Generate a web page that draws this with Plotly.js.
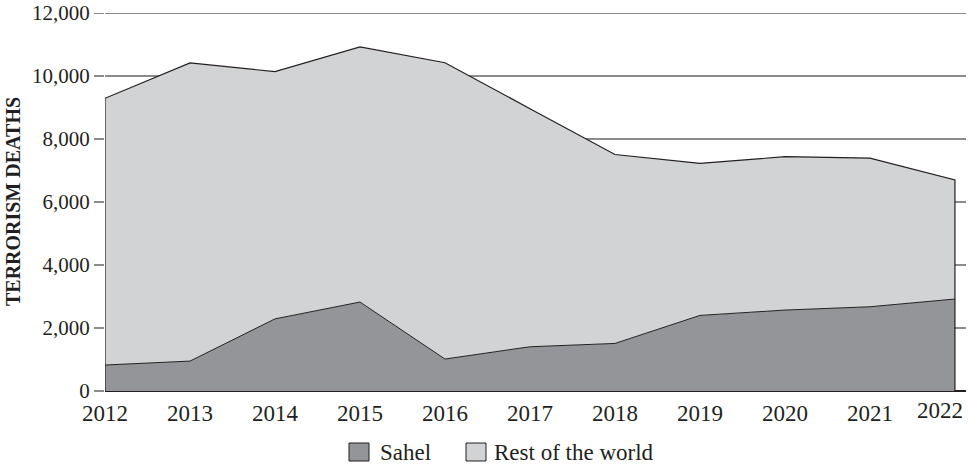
<!DOCTYPE html>
<html>
<head>
<meta charset="utf-8">
<script src="https://cdn.plot.ly/plotly-3.0.1.min.js"></script>
<style>html,body{margin:0;padding:0;background:#fff;}#chart{width:969px;height:465px;}</style>
</head>
<body>
<div id="chart"></div>
<script>
const years = [2012, 2013, 2014, 2015, 2016, 2017, 2018, 2019, 2020, 2021, 2022];
const sahel = [825, 950, 2290, 2825, 1015, 1405, 1510, 2400, 2570, 2675, 2920];
const restOfWorld = [8470, 9470, 7850, 8100, 9410, 7560, 6000, 4830, 4870, 4720, 3780];
const yTickVals = [0, 2000, 4000, 6000, 8000, 10000, 12000];
const seriesNames = ['Sahel', 'Rest of the world'];
const yTitle = 'TERRORISM DEATHS';

const totals = years.map((_, i) => sahel[i] + restOfWorld[i]);
const colSahel = '#939598';
const colRest = '#d1d3d4';
const edge = '#231f20';
const font = 'Liberation Serif, Times New Roman, serif';

const traces = [
  {x: years, y: sahel, name: seriesNames[0], type: 'scatter', mode: 'lines',
   stackgroup: 'one', fillcolor: colSahel, line: {color: edge, width: 1}, hoverinfo: 'skip'},
  {x: years, y: restOfWorld, name: seriesNames[1], type: 'scatter', mode: 'lines',
   stackgroup: 'one', fillcolor: colRest, line: {color: edge, width: 0}, hoverinfo: 'skip'},
  {x: [years[0]].concat(years, [years[years.length-1]]),
   y: [0].concat(totals, [0]), type: 'scatter', mode: 'lines',
   line: {color: edge, width: 1.2}, hoverinfo: 'skip', showlegend: false}
];

const L = 105, R = 966, T = 12, B = 391;
const px = v => (v - L) / (R - L);
const py = v => (B - v) / (B - T);

const layout = {
  width: 969, height: 465,
  margin: {l: L, r: 969 - R, t: T, b: 465 - B},
  paper_bgcolor: '#fff', plot_bgcolor: '#fff',
  showlegend: false,
  font: {family: font, color: '#231f20'},
  xaxis: {
    range: [2012, 2022.13], tickvals: years.slice(0, -1), ticktext: years.slice(0, -1).map(String),
    showgrid: false, zeroline: false, showline: false, ticks: '', ticklabelstandoff: 6,
    tickfont: {size: 23, family: font, color: '#231f20'}, automargin: false
  },
  yaxis: {
    range: [0, 12035], tickvals: yTickVals, tickformat: ',d',
    showgrid: true, gridcolor: '#8c8c8c', gridwidth: 1.2,
    zeroline: true, zerolinecolor: edge, zerolinewidth: 1.6,
    ticks: 'outside', ticklen: 10, tickcolor: '#8c8c8c', tickwidth: 1.2,
    showline: false, automargin: false,
    tickfont: {size: 21, family: font, color: '#231f20'},
    title: {text: '<b>' + yTitle + '</b>', font: {size: 20, family: font, color: '#231f20'}, standoff: 6}
  },
  shapes: [
    {type: 'rect', xref: 'paper', yref: 'paper', x0: px(349), x1: px(369), y0: py(461), y1: py(443),
     fillcolor: colSahel, line: {color: edge, width: 1}},
    {type: 'rect', xref: 'paper', yref: 'paper', x0: px(466), x1: px(486), y0: py(461), y1: py(443),
     fillcolor: colRest, line: {color: edge, width: 1}}
  ],
  annotations: [
    {xref: 'x', yref: 'paper', x: years[years.length-1], y: 0, yshift: -5, xshift: -15,
     text: String(years[years.length-1]), showarrow: false, xanchor: 'center', yanchor: 'top',
     font: {size: 23, family: font, color: '#231f20'}},
    {xref: 'paper', yref: 'paper', x: px(378), y: py(452), text: seriesNames[0], showarrow: false,
     xanchor: 'left', yanchor: 'middle', font: {size: 23, family: font, color: '#231f20'}},
    {xref: 'paper', yref: 'paper', x: px(492), y: py(452), text: seriesNames[1], showarrow: false,
     xanchor: 'left', yanchor: 'middle', font: {size: 23, family: font, color: '#231f20'}}
  ]
};

Plotly.newPlot('chart', traces, layout, {staticPlot: true, displayModeBar: false});
</script>
</body>
</html>
